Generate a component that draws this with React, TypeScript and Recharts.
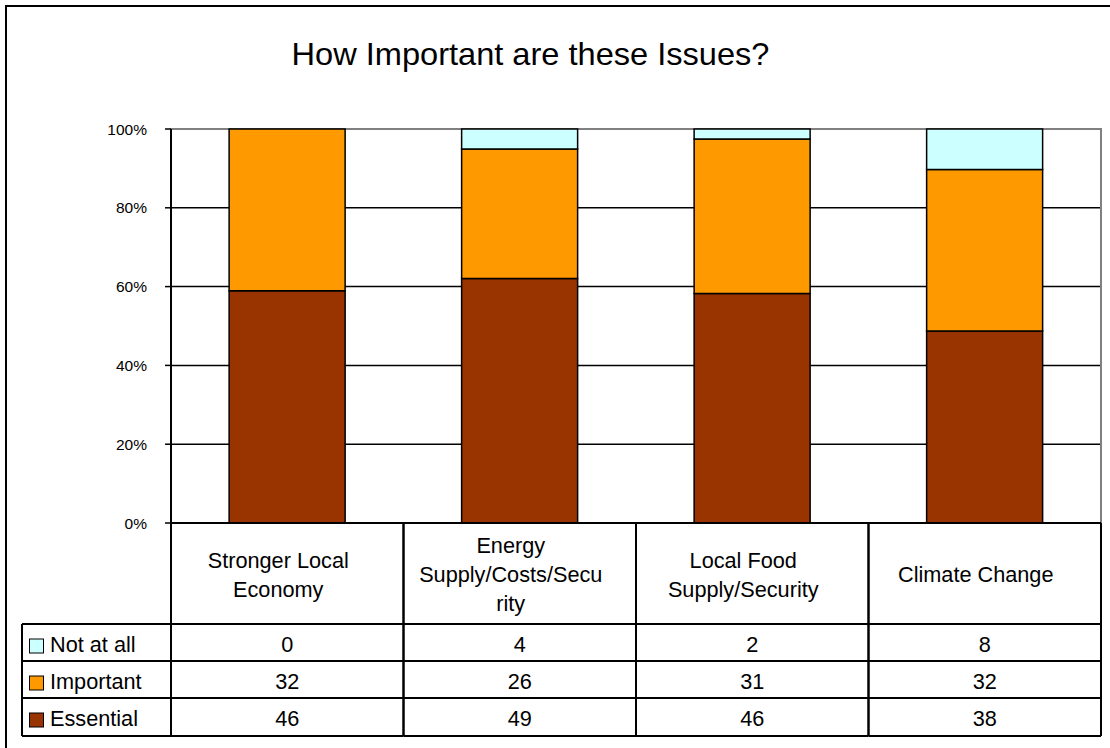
import React from "react";
import { BarChart, Bar, XAxis, YAxis, CartesianGrid, ReferenceArea } from "recharts";

// categories + survey counts
const categories = [
  "Stronger Local Economy",
  "Energy Supply/Costs/Security",
  "Local Food Supply/Security",
  "Climate Change",
];
const categoryLines = [
  ["Stronger Local", "Economy"],
  ["Energy", "Supply/Costs/Secu", "rity"],
  ["Local Food", "Supply/Security"],
  ["Climate Change"],
];
const notAtAll = [0, 4, 2, 8];
const important = [32, 26, 31, 32];
const essential = [46, 49, 46, 38];
const yTicks = [0, 0.2, 0.4, 0.6, 0.8, 1];

const series = [
  { key: "notAtAll", label: "Not at all", color: "#CCFFFF", values: notAtAll },
  { key: "important", label: "Important", color: "#FF9900", values: important },
  { key: "essential", label: "Essential", color: "#993300", values: essential },
];

const data = categories.map((name, i) => ({
  name,
  essential: essential[i],
  important: important[i],
  notAtAll: notAtAll[i],
}));

const FONT = "'Liberation Sans', Arial, sans-serif";
const W = 1110;
const H = 748;
const PLOT_LEFT = 171;
const PLOT_RIGHT = 1101;
const PLOT_TOP = 129;
const PLOT_BOTTOM = 523;
const BAND = (PLOT_RIGHT - PLOT_LEFT) / categories.length;
const HEAD_MID = 574.5;
const LINE_H = 29;
const ROW_TOPS = [624, 661, 698];
const TABLE_BOTTOM = 736;
const LEGEND_LEFT = 22;
const TXT = 21.7;

const pct = (v: number) => `${Math.round(v * 100)}%`;

// each x tick draws its own column of the data table
const TableColumn = (props: any) => {
  const { x, payload } = props;
  const i = categories.indexOf(payload.value);
  const left = x - BAND / 2;
  const right = x + BAND / 2;
  const lines = categoryLines[i] || [String(payload.value)];
  const firstBase = HEAD_MID - ((lines.length - 1) * LINE_H) / 2 + 7.5;
  const ln = { stroke: "#000", strokeWidth: 2 };
  return (
    <g>
      <line x1={left} x2={left} y1={PLOT_BOTTOM} y2={TABLE_BOTTOM} {...ln} />
      <line x1={right} x2={right} y1={PLOT_BOTTOM} y2={TABLE_BOTTOM} {...ln} />
      {[...ROW_TOPS, TABLE_BOTTOM].map((y) => (
        <line key={y} x1={left} x2={right} y1={y} y2={y} {...ln} />
      ))}
      {lines.map((t, k) => (
        <text key={k} x={x - 9} y={firstBase + k * LINE_H} textAnchor="middle" fontSize={TXT} fontFamily={FONT} fill="#000">
          {t}
        </text>
      ))}
      {series.map((s, r) => (
        <text key={s.key} x={x} y={ROW_TOPS[r] + 28} textAnchor="middle" fontSize={TXT} fontFamily={FONT} fill="#000">
          {s.values[i]}
        </text>
      ))}
      {i === 0 && (
        <g>
          <line x1={LEGEND_LEFT} x2={LEGEND_LEFT} y1={ROW_TOPS[0]} y2={TABLE_BOTTOM} {...ln} />
          {[...ROW_TOPS, TABLE_BOTTOM].map((y) => (
            <line key={y} x1={LEGEND_LEFT} x2={left} y1={y} y2={y} {...ln} />
          ))}
          {series.map((s, r) => (
            <g key={s.key}>
              <rect x={29.5} y={ROW_TOPS[r] + 15} width={14} height={14} fill={s.color} stroke="#000" strokeWidth={1} />
              <text x={50} y={ROW_TOPS[r] + 28} fontSize={TXT} fontFamily={FONT} fill="#000">
                {s.label}
              </text>
            </g>
          ))}
        </g>
      )}
    </g>
  );
};

export default function App() {
  return (
    <div style={{ position: "absolute", left: 0, top: 0, width: W, height: H, overflow: "hidden", background: "#fff" }}>
      <div style={{ position: "absolute", left: 5, top: 5, width: W + 20, height: H + 20, border: "2px solid #000" }} />
      <svg style={{ position: "absolute", left: 0, top: 0 }} width={W} height={100}>
        <text x={530.5} y={65} textAnchor="middle" fontSize={30.5} fontFamily={FONT} fill="#000" textLength={478} lengthAdjust="spacingAndGlyphs">
          How Important are these Issues?
        </text>
      </svg>
      <div style={{ position: "absolute", left: 0, top: 0 }}>
        <BarChart
          width={W}
          height={H}
          data={data}
          stackOffset="expand"
          barCategoryGap="25%"
          margin={{ top: PLOT_TOP, right: W - PLOT_RIGHT, bottom: 0, left: 0 }}
        >
          <CartesianGrid vertical={false} stroke="#000" strokeWidth={1.5} />
          <ReferenceArea y1={0} y2={1} fill="none" stroke="#808080" strokeWidth={2} ifOverflow="visible" />
          <XAxis
            dataKey="name"
            height={H - PLOT_BOTTOM}
            interval={0}
            tickLine={false}
            axisLine={{ stroke: "#000", strokeWidth: 2 }}
            tick={<TableColumn />}
          />
          <YAxis
            width={PLOT_LEFT}
            domain={[0, 1]}
            ticks={yTicks}
            tickFormatter={pct}
            tickSize={6}
            tickMargin={18}
            axisLine={{ stroke: "#000", strokeWidth: 2 }}
            tickLine={{ stroke: "#000", strokeWidth: 1.5 }}
            tick={{ fill: "#000", fontSize: 15.5, fontFamily: FONT }}
          />
          <Bar dataKey="essential" stackId="a" fill="#993300" stroke="#000" strokeWidth={1.5} isAnimationActive={false} />
          <Bar dataKey="important" stackId="a" fill="#FF9900" stroke="#000" strokeWidth={1.5} isAnimationActive={false} />
          <Bar dataKey="notAtAll" stackId="a" fill="#CCFFFF" stroke="#000" strokeWidth={1.5} isAnimationActive={false} />
        </BarChart>
      </div>
    </div>
  );
}
